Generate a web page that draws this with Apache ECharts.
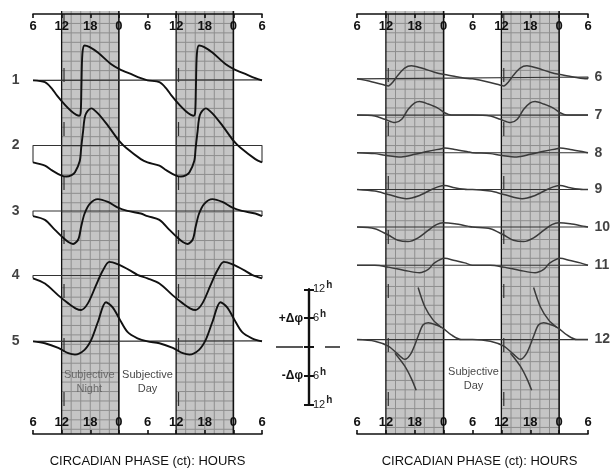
<!DOCTYPE html>
<html><head><meta charset="utf-8">
<script src="https://cdn.jsdelivr.net/npm/echarts@6/dist/echarts.min.js"></script>
<style>html,body{margin:0;padding:0;background:#fff}#c{width:610px;height:473px}</style>
</head><body><div id="c"></div>
<script>
// ---- data (circadian time ct in hours, phase shift Δφ in hours; one cycle ct 6..30, double plotted) ----
const tickLabels = ['6','12','18','0','6','12','18','0','6'];
const nightBands = [[12,24],[36,48]];
const leftNames = ['1','2','3','4','5'];
const rightNames = ['6','7','8','9','10','11','12'];

const curve1 = [[6,-0.1],[8.5,-0.5],[10,-1.9],[11,-3.3],[12.7,-5.3],[14.1,-6.7],[15.1,-7.4],[15.7,-7.6],[16.0,-6.8],[16.15,-1.5],[16.35,5.5],[16.8,7.3],[17.8,7.0],[19.6,5.8],[22.4,3.3],[24.1,2.3],[26.5,1.25],[28.6,0.35],[30,-0.1]];
const curve2 = [[6,-3.6],[8.5,-4.3],[10,-5.3],[12,-6.4],[13,-6.6],[14.1,-6.3],[14.8,-5.7],[15.8,-3.3],[16.1,-0.5],[16.5,3.0],[17,6.5],[18.2,7.85],[19.6,6.8],[21.7,4.2],[24.1,0.9],[25.5,-0.5],[28.6,-2.9],[30,-3.6]];
const curve3 = [[6,-1.1],[8.5,-1.9],[10.6,-4.0],[12,-5.4],[13.4,-6.6],[14.4,-7.0],[15.5,-6.0],[16.1,-3.3],[16.8,-0.6],[17.9,1.5],[19.6,2.5],[21.7,1.9],[23.7,0.75],[25.8,0],[28.6,-0.55],[30,-1.1]];
const curve4 = [[6,-0.6],[8.5,-1.7],[11.3,-4.2],[13.4,-5.9],[15,-7.0],[16.1,-7.3],[17.5,-5.9],[19.2,-2.1],[20.6,1.0],[22,2.9],[23.7,2.4],[26.5,1.0],[27.9,0.15],[30,-0.6]];
const curve5 = [[6,-0.1],[8.5,-0.5],[11.3,-1.5],[13.4,-2.6],[14.8,-2.9],[16.8,-1.9],[18.2,0.2],[19.6,4.0],[21.3,8.2],[22.7,7.1],[24.1,4.7],[25.8,1.9],[27.9,0.55],[30,-0.1]];
const curve6 = [[6,-0.4],[9,-1.0],[11.8,-1.75],[12.5,-1.9],[13.5,-1.0],[14.5,0.35],[15.9,1.9],[17.3,2.4],[19.4,1.9],[22.1,1.0],[24.2,0.5],[27,0],[29,-0.35],[30,-0.4]];
const curve7 = [[6,0],[9.7,-0.2],[11.8,-0.9],[13.9,-1.6],[15.3,-0.9],[16.6,1.2],[18,2.6],[19,2.9],[20.8,2.35],[22.8,1.5],[24.2,0.5],[25.6,0],[30,0]];
const curve8 = [[6,0],[9.7,-0.2],[11.8,-0.55],[15.2,-0.9],[18,-0.35],[20.8,0.3],[23.5,0.85],[24.2,1.0],[26.3,0.7],[29,0.2],[30,0]];
const curve9 = [[6,0],[9.7,-0.35],[12.5,-1.05],[16.3,-1.95],[18.7,-1.4],[21.5,0],[22.8,0.55],[24.2,0.85],[26.3,0.35],[29,0],[30,0]];
const curve10 = [[6,0],[9.7,-0.35],[12.5,-1.7],[14.5,-2.8],[16.6,-3.1],[18.7,-2.3],[20.8,-0.7],[22.5,0.5],[23.9,0.9],[26.3,0.7],[29,0.2],[30,0]];
const curve11 = [[6,0],[9.7,0],[12.5,-0.4],[15.9,-1.1],[19,-1.6],[20.8,-0.9],[22.1,0.5],[24.2,1.5],[26.3,1.0],[28.4,0.5],[30,0]];
const curve12 = [[6,0],[9.7,-0.35],[12.5,-1.4],[14.5,-3.1],[15.9,-4.2],[17.3,-2.8],[18.7,0.7],[19.7,3.1],[20.8,3.6],[22.5,3.1],[23.9,2.4],[25.6,1.0],[27.7,0],[30,0]];
const curve12Upper = [[18.7,11.1],[20.1,7.0],[21.8,4.2],[23.5,2.6]];
const curve12Lower = [[13.9,-2.9],[15.9,-5.6],[17.3,-8.3],[18.3,-10.8]];
const scaleTicks = [-12,-6,0,6,12];

// ---- layout ----
const leftOffsets = [-13.96,-27.85,-41.73,-55.42,-69.27];
const rightOffsets = [-13.4,-21.52,-29.52,-37.35,-45.35,-53.48,-69.31];
const FONT = 'Liberation Sans, Arial, sans-serif';

function doublePlot(cycle){
  return cycle.slice(0,-1).concat(cycle.map(([t,v])=>[t+24,v]));
}
function shift(arr, off){ return arr.map(([t,v])=>[t, v+off]); }

const series = [];
function bandSeries(xi, yi, ymin){
  return {
    type:'custom', xAxisIndex:xi, yAxisIndex:yi, z:0, silent:true,
    data: nightBands,
    renderItem(params, api){
      const x0 = api.value(0), x1 = api.value(1);
      const tl = api.coord([x0, 0]), br = api.coord([x1, ymin]);
      const ch = [{type:'rect', shape:{x:tl[0], y:tl[1]-3, width:br[0]-tl[0], height:br[1]-tl[1]+3}, style:{fill:'#c5c5c5'}}];
      for(let h=x0+2; h<x1-0.01; h+=2){
        const p = api.coord([h,0]);
        ch.push({type:'line', shape:{x1:p[0],y1:tl[1]-3,x2:p[0],y2:br[1]}, style:{stroke:'#8e8e8e', lineWidth:1}});
      }
      for(let v=-2; v>ymin; v-=2){
        const p = api.coord([x0,v]);
        ch.push({type:'line', shape:{x1:tl[0],y1:p[1],x2:br[0],y2:p[1]}, style:{stroke:'#8e8e8e', lineWidth:1}});
      }
      const d = api.coord([x0+0.5,0]);
      ch.push({type:'line', shape:{x1:d[0],y1:tl[1],x2:d[0],y2:br[1]}, style:{stroke:'#333', lineWidth:1.2, lineDash:[14,40]}});
      ch.push({type:'line', shape:{x1:tl[0],y1:tl[1]-3,x2:tl[0],y2:br[1]}, style:{stroke:'#111', lineWidth:1.3}});
      ch.push({type:'line', shape:{x1:br[0],y1:tl[1]-3,x2:br[0],y2:br[1]}, style:{stroke:'#111', lineWidth:1.6}});
      return {type:'group', children:ch};
    }
  };
}
series.push(bandSeries(0,0,-89));
series.push(bandSeries(2,1,-89.4));

function addCurve(cycle, off, xi, yi, color, width, name, side){
  const full = doublePlot(cycle);
  const v0 = full[0][1], vE = full[full.length-1][1];
  series.push({type:'line', xAxisIndex:xi, yAxisIndex:yi, z:2, silent:true, showSymbol:false,
    data:[[6,v0+off],[6,off],[54,off],[54,vE+off]],
    lineStyle:{color:'#333', width:1.1}});
  series.push({type:'line', xAxisIndex:xi, yAxisIndex:yi, z:3, silent:true, showSymbol:false,
    smooth:0.3, data:shift(full, off),
    lineStyle:{color:color, width:width, join:'round'}});
  series.push({type:'scatter', xAxisIndex:xi, yAxisIndex:yi, z:4, silent:true, symbolSize:1,
    itemStyle:{color:'rgba(0,0,0,0)'},
    data:[[side==='left'?6:54, off]],
    label:{show:true, position:side, distance: side==='left'?13:6, formatter:name,
      color:'#111', fontSize:14, fontWeight:'bold', fontFamily:FONT}});
}
[curve1,curve2,curve3,curve4,curve5].forEach((c,i)=>addCurve(c, leftOffsets[i], 0, 0, '#111', 1.9, leftNames[i], 'left'));
[curve6,curve7,curve8,curve9,curve10,curve11,curve12].forEach((c,i)=>addCurve(c, rightOffsets[i], 2, 1, '#3a3a3a', 1.5, rightNames[i], 'right'));

[curve12Upper, curve12Lower].forEach(br=>{
  [0,24].forEach(s=>{
    series.push({type:'line', xAxisIndex:2, yAxisIndex:1, z:3, silent:true, showSymbol:false,
      smooth:0.3, data: br.map(([t,v])=>[t+s, v+rightOffsets[6]]), lineStyle:{color:'#3a3a3a', width:1.5}});
  });
});

// texts
function textSeries(xi, yi, items){
  series.push({type:'scatter', xAxisIndex:xi, yAxisIndex:yi, z:5, silent:true, symbolSize:1,
    itemStyle:{color:'rgba(0,0,0,0)'},
    data: items.map(it=>({value:it.pos, label:{show:true, position:'inside', formatter:it.text, color:it.color,
      fontSize:11, lineHeight:14, fontFamily:FONT, align:'center'}}))});
}
textSeries(0,0,[{pos:[17.8,-78.0], text:'Subjective\nNight', color:'#555'},{pos:[30,-78.0], text:'Subjective\nDay', color:'#111'}]);
textSeries(2,1,[{pos:[30.2,-77.7], text:'Subjective\nDay', color:'#111'}]);

// scale bar zero line
series.push({type:'line', xAxisIndex:4, yAxisIndex:2, silent:true, showSymbol:false,
  data:[[0,0],[1,0]], lineStyle:{color:'#222', width:1.4, type:[27,22]}});

function topAxis(gi){
  return {type:'value', gridIndex:gi, position:'top', min:6, max:54, interval:6,
    axisLine:{show:true, lineStyle:{color:'#111', width:1.6}},
    axisTick:{show:true, inside:true, length:4, lineStyle:{color:'#111', width:1.6}},
    axisLabel:{inside:true, margin:6, formatter:v=>tickLabels[Math.round((v-6)/6)], color:'#111', fontSize:13, fontWeight:'bold', fontFamily:FONT},
    splitLine:{show:false}};
}
function bottomAxis(gi, pad){
  return {type:'value', gridIndex:gi, position:'bottom', min:6, max:54, interval:6,
    name:'CIRCADIAN PHASE (ct): HOURS', nameLocation:'middle', nameGap:21,
    nameTextStyle:{color:'#111', fontSize:13, fontFamily:FONT, padding:pad},
    axisLine:{show:true, lineStyle:{color:'#111', width:1.6}},
    axisTick:{show:true, inside:true, length:4, lineStyle:{color:'#111', width:1.6}},
    axisLabel:{inside:true, margin:5, formatter:v=>tickLabels[Math.round((v-6)/6)], color:'#111', fontSize:13, fontWeight:'bold', fontFamily:FONT},
    splitLine:{show:false}};
}

const option = {
  animation:false,
  backgroundColor:'#fff',
  grid:[
    {left:33, width:229, top:14, bottom:32},
    {left:357, width:231, top:14, bottom:30},
    {left:276, width:64, top:289.4, height:115.2}
  ],
  xAxis:[
    topAxis(0), bottomAxis(0,[0,0,0,0]), topAxis(1), bottomAxis(1,[0,0,0,14]),
    {type:'value', gridIndex:2, min:0, max:1, show:false}
  ],
  yAxis:[
    {type:'value', gridIndex:0, min:-89, max:0, show:false},
    {type:'value', gridIndex:1, min:-89.4, max:0, show:false},
    {type:'value', gridIndex:2, position:'left', offset:-33, min:-12, max:12, interval:6,
      axisLine:{show:true, lineStyle:{color:'#111', width:2.2}},
      axisTick:{show:true, length:5, lineStyle:{color:'#111', width:2}},
      axisLabel:{margin:6, formatter:v=>v===scaleTicks[3]?'+Δφ':(v===scaleTicks[1]?'-Δφ':''), color:'#111', fontSize:12, fontWeight:'bold', fontFamily:FONT},
      splitLine:{show:false}},
    {type:'value', gridIndex:2, position:'right', offset:-31, min:-12, max:12, interval:6,
      axisLine:{show:true, lineStyle:{color:'#111', width:2.2}},
      axisTick:{show:true, length:5, lineStyle:{color:'#111', width:2}},
      axisLabel:{margin:4, formatter:v=>v===0?'':Math.abs(v)+'{s|h}', color:'#222', fontSize:11, fontFamily:FONT,
        rich:{s:{fontSize:10, fontWeight:'bold', color:'#222', padding:[0,0,8,1]}}},
      splitLine:{show:false}}
  ],
  series
};
echarts.init(document.getElementById('c'), null, {renderer:'canvas'}).setOption(option);
</script></body></html>
